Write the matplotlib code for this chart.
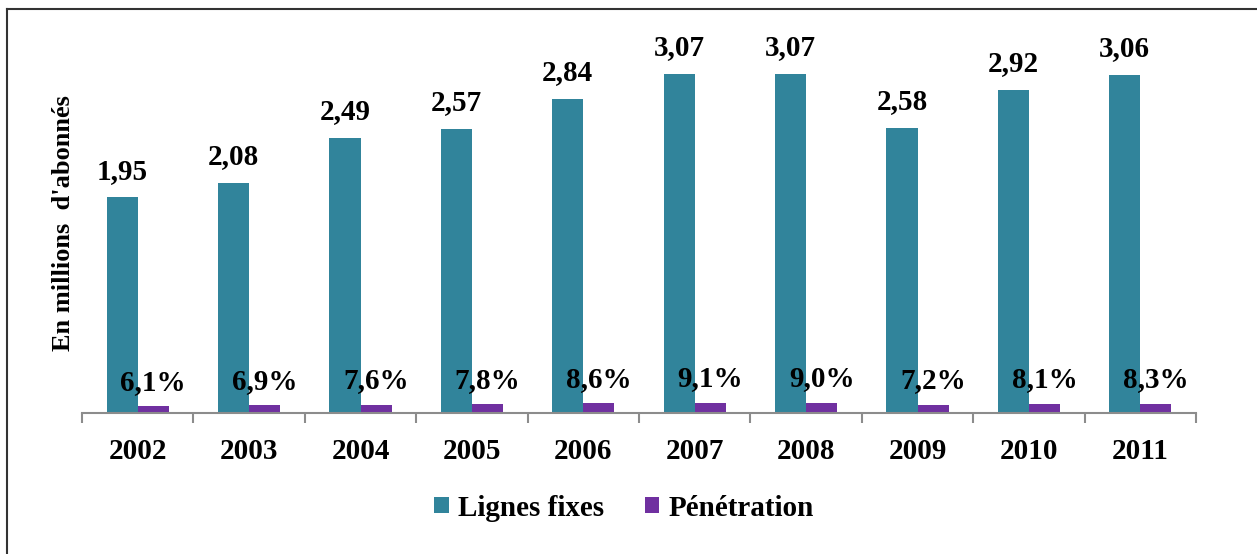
import matplotlib
matplotlib.use("Agg")
import matplotlib.pyplot as plt
from matplotlib.lines import Line2D
import numpy as np

years = ["2002", "2003", "2004", "2005", "2006", "2007", "2008", "2009", "2010", "2011"]
lignes_fixes = [1.95, 2.08, 2.49, 2.57, 2.84, 3.07, 3.07, 2.58, 2.92, 3.06]
penetration = [6.1, 6.9, 7.6, 7.8, 8.6, 9.1, 9.0, 7.2, 8.1, 8.3]

teal = "#31849B"
purple = "#7030A0"
serif = ["Liberation Serif", "DejaVu Serif"]

plt.rcParams["font.family"] = serif
plt.rcParams["font.weight"] = "bold"

fig = plt.figure(figsize=(12.57, 5.54), dpi=100)
ax = fig.add_axes([82 / 1257, 1 - 413 / 554, (1196 - 82) / 1257, (413 - 40) / 554])

x = np.arange(len(years))
w = 0.28
pen_units = [p / 100 for p in penetration]
b1 = ax.bar(x - w / 2, lignes_fixes, w, color=teal, label="Lignes fixes")
b2 = ax.bar(x + w / 2, pen_units, w, color=purple, label="Pénétration")

for rect, v in zip(b1, lignes_fixes):
    ax.annotate(f"{v:.2f}".replace(".", ","), (rect.get_x() + rect.get_width() / 2, rect.get_height()),
                xytext=(0, 13.5), textcoords="offset points", ha="center", va="baseline",
                fontsize=21, fontweight="bold")
for rect, v in zip(b2, penetration):
    ax.annotate(f"{v:.1f}%".replace(".", ","), (rect.get_x() + rect.get_width() / 2, rect.get_height()),
                xytext=(0, 12), textcoords="offset points", ha="center", va="baseline",
                fontsize=21, fontweight="bold")

ax.set_xlim(-0.5, len(years) - 0.5)
ax.set_ylim(0, 3.375)
ax.set_xticks(x)
ax.set_xticklabels(years, fontsize=21, fontweight="bold")
ax.set_xticks(np.arange(-0.5, len(years)), minor=True)
ax.tick_params(axis="x", which="major", length=0, pad=18)
ax.tick_params(axis="x", which="minor", length=7, width=1.5, color="#8c8c8c", direction="out")
ax.set_yticks([])
for s in ["top", "right", "left"]:
    ax.spines[s].set_visible(False)
ax.spines["bottom"].set_color("#8c8c8c")
ax.spines["bottom"].set_linewidth(1.5)

ax.set_ylabel("En millions  d'abonnés", fontsize=19, fontweight="bold")
ax.yaxis.set_label_coords(-0.0065, 0.51)

leg = fig.legend(loc="center", bbox_to_anchor=(624 / 1257, 1 - 508 / 554), ncol=2, frameon=False,
                 prop={"family": serif, "weight": "bold", "size": 21},
                 handlelength=0.5, handleheight=0.5, handletextpad=0.3, columnspacing=1.4)

# outer frame (top and left edges visible)
fig.add_artist(Line2D([7 / 1257, 1.0], [1 - 9 / 554, 1 - 9 / 554], color="#333333", lw=1.5))
fig.add_artist(Line2D([7 / 1257, 7 / 1257], [0.0, 1 - 9 / 554], color="#333333", lw=1.5))

fig.savefig("out.png", dpi=100)
